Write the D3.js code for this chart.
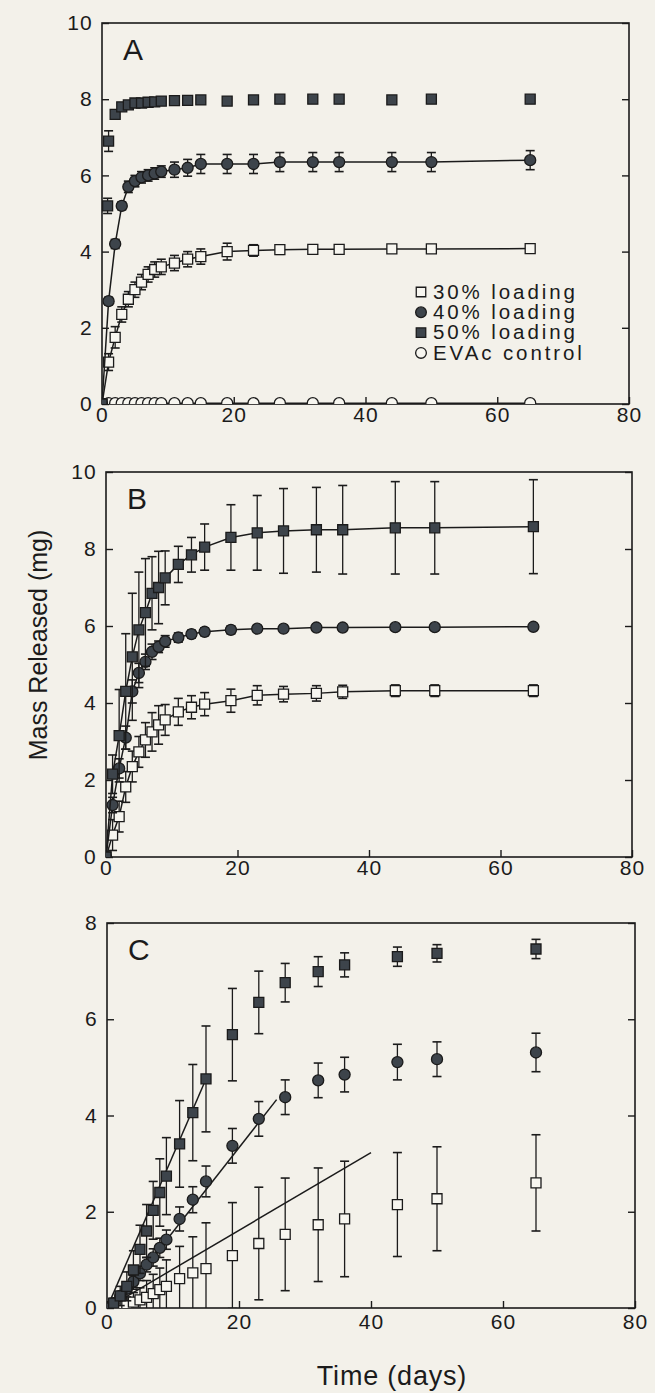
<!DOCTYPE html>
<html>
<head>
<meta charset="utf-8">
<script src="https://cdn.jsdelivr.net/npm/d3@7"></script>
<style>
body { margin: 0; background: #f3f1ea; }
svg { display: block; font-family: "Liberation Sans", Arial, sans-serif; }
</style>
</head>
<body>
<svg id="fig" width="655" height="1393"></svg>
<script>
// sampling days (same for most series)
var days = [0,1,2,3,4,5,6,7,8,9,11,13,15,19,23,27,32,36,44,50,65];
var xTicks = [0,20,40,60,80];

// ---- panel A ----
var aDays50 = [0,0.85,1,2,3,4,5,6,7,8,9,11,13,15,19,23,27,32,36,44,50,65];
var a50    = [0,5.2,6.9,7.6,7.8,7.85,7.9,7.9,7.92,7.93,7.95,7.96,7.97,7.98,7.95,7.98,8.0,8.0,8.0,7.98,8.0,8.0];
var a50err = [0,0.2,0.27,0.1,0.08,0.06,0.05,0.05,0.05,0.05,0.05,0.05,0.05,0.05,0.05,0.05,0.05,0.05,0.05,0.05,0.05,0.05];
var a40    = [0,2.7,4.2,5.2,5.7,5.85,5.95,6.0,6.05,6.1,6.15,6.2,6.3,6.3,6.3,6.35,6.35,6.35,6.35,6.35,6.4];
var a40err = [0,0.1,0.12,0.1,0.15,0.15,0.15,0.15,0.15,0.15,0.2,0.22,0.25,0.25,0.25,0.25,0.25,0.25,0.25,0.25,0.25];
var a30    = [0,1.1,1.75,2.35,2.75,3.0,3.2,3.4,3.53,3.6,3.7,3.8,3.87,4.0,4.03,4.05,4.06,4.06,4.07,4.07,4.08];
var a30err = [0,0.22,0.28,0.2,0.2,0.2,0.2,0.2,0.2,0.2,0.2,0.2,0.2,0.22,0.15,0.12,0.1,0.1,0.08,0.08,0.08];
var aEvac  = [0,0.02,0.02,0.02,0.02,0.02,0.02,0.02,0.02,0.02,0.02,0.02,0.02,0.02,0.02,0.02,0.02,0.02,0.02,0.02,0.02];
var legendLabels = ["30% loading","40% loading","50% loading","EVAc control"];

// ---- panel B ----
var b50    = [0,2.15,3.15,4.3,5.2,5.9,6.35,6.85,7.0,7.25,7.6,7.85,8.05,8.3,8.42,8.47,8.5,8.5,8.55,8.55,8.58];
var b50err = [0,0.5,1.2,1.5,1.65,1.5,1.4,0.95,0.94,0.7,0.47,0.45,0.6,0.85,0.97,1.1,1.1,1.15,1.2,1.2,1.22];
var b40    = [0,1.35,2.3,3.1,4.3,4.78,5.07,5.33,5.46,5.6,5.7,5.79,5.85,5.9,5.93,5.93,5.96,5.96,5.97,5.97,5.98];
var b40err = [0,0.2,0.25,0.3,0.3,0.25,0.2,0.2,0.15,0.15,0.12,0.1,0.1,0.1,0.08,0.08,0.08,0.08,0.08,0.08,0.08];
var b30    = [0,0.57,1.05,1.82,2.35,2.73,3.04,3.25,3.43,3.56,3.77,3.89,3.97,4.06,4.2,4.23,4.25,4.29,4.32,4.32,4.32];
var b30err = [0,0.4,0.4,0.4,0.4,0.4,0.45,0.5,0.5,0.4,0.35,0.3,0.3,0.3,0.25,0.2,0.2,0.17,0.15,0.15,0.15];

// ---- panel C ----
var c50    = [0,0.1,0.25,0.45,0.79,1.22,1.6,2.03,2.4,2.74,3.41,4.06,4.76,5.68,6.35,6.76,6.99,7.13,7.3,7.37,7.46];
var c50err = [0,0.1,0.2,0.3,0.4,0.5,0.55,0.6,0.7,0.8,0.9,1.0,1.1,0.96,0.65,0.4,0.31,0.25,0.2,0.18,0.2];
var c40    = [0,0.1,0.25,0.4,0.55,0.72,0.9,1.05,1.25,1.42,1.85,2.25,2.63,3.37,3.93,4.38,4.73,4.85,5.11,5.17,5.31];
var c40err = [0,0.05,0.08,0.1,0.12,0.15,0.15,0.18,0.2,0.2,0.25,0.27,0.32,0.36,0.36,0.36,0.36,0.36,0.37,0.36,0.4];
var c30    = [0,0.02,0.05,0.08,0.12,0.17,0.22,0.3,0.38,0.45,0.61,0.73,0.82,1.09,1.34,1.53,1.73,1.85,2.15,2.27,2.6];
var c30err = [0,0.05,0.1,0.15,0.2,0.25,0.35,0.4,0.45,0.55,0.67,0.75,0.95,1.1,1.17,1.17,1.18,1.2,1.08,1.08,1.0];
// linear fits (start / end)
var fitDays50 = [0,15],    fit50 = [0,4.76];
var fitDays40 = [0.95,25.7], fit40 = [0,4.33];
var fitDays30 = [0,40],    fit30 = [0,3.23];

var ink = "#1b1b1b", dark = "#3d444b", paper = "#f7f6f0";
var svg = d3.select("#fig");

function pts(t, v, e) {
  return t.map(function(d, i){ return {t: d, v: v[i], e: e ? e[i] : 0}; });
}

function panel(cfg) {
  var x = d3.scaleLinear().domain([0,80]).range([cfg.left, cfg.right]);
  var y = d3.scaleLinear().domain([0,cfg.ymax]).range([cfg.bottom, cfg.top]);
  var g = svg.append("g");

  svg.append("clipPath").attr("id", "clip" + cfg.name)
    .append("rect").attr("x", cfg.left).attr("y", cfg.top)
    .attr("width", cfg.right - cfg.left).attr("height", cfg.bottom - cfg.top);

  var yTicks = d3.range(0, cfg.ymax + 1, 2);
  var ax = g.append("g").attr("class", "axes");
  ax.append("g").attr("transform", "translate(" + cfg.left + ",0)")
    .call(d3.axisLeft(y).tickValues(yTicks).tickSizeInner(-7).tickSizeOuter(0).tickPadding(9));
  ax.append("g").attr("transform", "translate(" + cfg.right + ",0)")
    .call(d3.axisRight(y).tickValues(yTicks).tickSizeInner(-7).tickSizeOuter(0).tickFormat(""));
  ax.append("g").attr("transform", "translate(0," + cfg.bottom + ")")
    .call(d3.axisBottom(x).tickValues(xTicks).tickSizeInner(-7).tickSizeOuter(0).tickPadding(cfg.xpad));
  ax.selectAll(".domain").remove();
  ax.selectAll(".tick line").attr("stroke", ink).attr("stroke-width", 1.4);
  ax.selectAll(".tick text").attr("fill", ink).attr("font-size", 21)
    .attr("letter-spacing", 1.2).attr("font-family", "Liberation Sans, Arial, sans-serif");

  g.append("rect").attr("x", cfg.left).attr("y", cfg.top)
    .attr("width", cfg.right - cfg.left).attr("height", cfg.bottom - cfg.top)
    .attr("fill", "none").attr("stroke", ink).attr("stroke-width", 1.6);

  g.append("text").attr("x", cfg.left + 21).attr("y", cfg.top + 37)
    .attr("font-size", 30).attr("fill", ink).text(cfg.name);

  var plot = g.append("g").attr("clip-path", "url(#clip" + cfg.name + ")");
  return {x: x, y: y, g: g, plot: plot};
}

function series(p, data, shape, filled, withLine) {
  var line = d3.line().x(function(d){ return p.x(d.t); }).y(function(d){ return p.y(d.v); });
  var s = p.plot.append("g");
  if (withLine) {
    s.append("path").datum(data).attr("d", line)
      .attr("fill", "none").attr("stroke", ink).attr("stroke-width", 1.5);
  }
  var eb = s.selectAll(".eb").data(data.filter(function(d){ return d.e > 0; })).enter().append("g");
  eb.append("line")
    .attr("x1", function(d){ return p.x(d.t); }).attr("x2", function(d){ return p.x(d.t); })
    .attr("y1", function(d){ return p.y(d.v - d.e); }).attr("y2", function(d){ return p.y(d.v + d.e); })
    .attr("stroke", ink).attr("stroke-width", 1.3);
  [-1, 1].forEach(function(k){
    eb.append("line")
      .attr("x1", function(d){ return p.x(d.t) - 4.5; }).attr("x2", function(d){ return p.x(d.t) + 4.5; })
      .attr("y1", function(d){ return p.y(d.v + k * d.e); }).attr("y2", function(d){ return p.y(d.v + k * d.e); })
      .attr("stroke", ink).attr("stroke-width", 1.6);
  });
  var sym = d3.symbol().type(shape === "square" ? d3.symbolSquare : d3.symbolCircle)
    .size(shape === "square" ? 100 : 96);
  s.selectAll(".pt").data(data).enter().append("path")
    .attr("transform", function(d){ return "translate(" + p.x(d.t) + "," + p.y(d.v) + ")"; })
    .attr("d", sym)
    .attr("fill", filled ? dark : paper)
    .attr("stroke", ink).attr("stroke-width", 1.3);
}

function fitLine(p, t, v) {
  p.plot.append("path").datum(pts(t, v))
    .attr("d", d3.line().x(function(d){ return p.x(d.t); }).y(function(d){ return p.y(d.v); }))
    .attr("fill", "none").attr("stroke", ink).attr("stroke-width", 1.5);
}

// panel A
var pA = panel({name: "A", left: 102, right: 629, top: 23, bottom: 404, ymax: 10, xpad: 3});
series(pA, pts(days, aEvac), "circle", false, true);
series(pA, pts(days, a30, a30err), "square", false, true);
series(pA, pts(days, a40, a40err), "circle", true, true);
series(pA, pts(aDays50, a50, a50err), "square", true, false);

var legendShapes = [["square", false], ["circle", true], ["square", true], ["circle", false]];
var lg = pA.g.append("g").attr("transform", "translate(421,292)");
var items = lg.selectAll("g").data(legendLabels).enter().append("g")
  .attr("transform", function(d, i){ return "translate(0," + (i * 20.3) + ")"; });
items.append("path")
  .attr("d", function(d, i){
    return d3.symbol().type(legendShapes[i][0] === "square" ? d3.symbolSquare : d3.symbolCircle).size(90)();
  })
  .attr("fill", function(d, i){ return legendShapes[i][1] ? dark : paper; })
  .attr("stroke", ink).attr("stroke-width", 1.3);
items.append("text").attr("x", 12).attr("y", 6.8)
  .attr("font-size", 20.5).attr("letter-spacing", 2.9).attr("fill", ink).text(function(d){ return d; });

// panel B
var pB = panel({name: "B", left: 106, right: 632, top: 472, bottom: 857, ymax: 10, xpad: 3});
series(pB, pts(days, b30, b30err), "square", false, true);
series(pB, pts(days, b40, b40err), "circle", true, true);
series(pB, pts(days, b50, b50err), "square", true, true);

// panel C
var pC = panel({name: "C", left: 107, right: 635, top: 923, bottom: 1308, ymax: 8, xpad: 6});
fitLine(pC, fitDays30, fit30);
fitLine(pC, fitDays40, fit40);
fitLine(pC, fitDays50, fit50);
series(pC, pts(days, c30, c30err), "square", false, false);
series(pC, pts(days, c40, c40err), "circle", true, false);
series(pC, pts(days, c50, c50err), "square", true, false);

// axis titles
svg.append("text").attr("transform", "translate(47,645) rotate(-90)")
  .attr("text-anchor", "middle").attr("font-size", 25).attr("fill", ink)
  .text("Mass Released (mg)");
svg.append("text").attr("x", 392).attr("y", 1385)
  .attr("text-anchor", "middle").attr("font-size", 27).attr("letter-spacing", 0.8).attr("fill", ink)
  .text("Time (days)");
</script>
</body>
</html>
